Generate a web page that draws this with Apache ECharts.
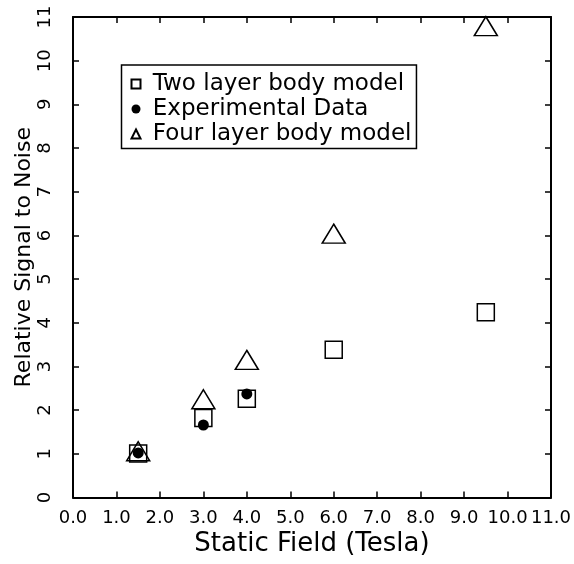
<!DOCTYPE html>
<html><head><meta charset="utf-8">
<script src="https://cdn.jsdelivr.net/npm/echarts@6/dist/echarts.min.js"></script>
<style>html,body{margin:0;padding:0;background:#fff}#c{width:574px;height:564px}</style>
</head><body><div id="c"></div>
<script>
// Data
const fieldTesla   = [1.5, 3.0, 4.0, 6.0, 9.5];
const twoLayer     = [1.01, 1.82, 2.26, 3.38, 4.24];
const fourLayer    = [1.06, 2.25, 3.15, 6.04, 10.79];
const expField     = [1.5, 3.0, 4.0];
const experimental = [1.02, 1.66, 2.37];
const seriesNames  = ['Two layer body model', 'Experimental Data', 'Four layer body model'];
const xTickLabels  = ['0.0','1.0','2.0','3.0','4.0','5.0','6.0','7.0','8.0','9.0','10.0','11.0'];
const yTickLabels  = ['0','1','2','3','4','5','6','7','8','9','10','11'];

const FONT = 'DejaVu Sans';
const pair = (xs, ys) => xs.map((x, i) => [x, ys[i]]);

const axisLine = {show: true, onZero: false, lineStyle: {color: '#000', width: 2}};
const axisTick = {show: true, inside: true, length: 6, lineStyle: {color: '#000', width: 1.5}};

const chart = echarts.init(document.getElementById('c'), null, {renderer: 'canvas'});
chart.setOption({
  backgroundColor: '#fff',
  animation: false,
  grid: {left: 73, right: 23, top: 17, bottom: 66.5, containLabel: false, outerBoundsMode: 'none'},
  xAxis: [
    {type: 'value', min: 0, max: 11, interval: 1, position: 'bottom',
     axisLine, axisTick, splitLine: {show: false},
     axisLabel: {color: '#000', fontSize: 18, fontFamily: FONT, margin: 12,
                 formatter: v => xTickLabels[Math.round(v)]},
     name: 'Static Field (Tesla)', nameLocation: 'middle', nameGap: 34, nameMoveOverlap: false,
     nameTextStyle: {color: '#000', fontSize: 26, fontFamily: FONT}},
    {type: 'value', min: 0, max: 11, interval: 1, position: 'top',
     axisLine, axisTick, splitLine: {show: false}, axisLabel: {show: false}}
  ],
  yAxis: [
    {type: 'value', min: 0, max: 11, interval: 1, position: 'left',
     axisLine, axisTick, splitLine: {show: false},
     axisLabel: {color: '#000', fontSize: 18, fontFamily: FONT, margin: 19, rotate: 90,
                 formatter: v => yTickLabels[Math.round(v)]},
     name: 'Relative Signal to Noise', nameLocation: 'middle', nameGap: 38, nameMoveOverlap: false,
     nameTextStyle: {color: '#000', fontSize: 22, fontFamily: FONT}},
    {type: 'value', min: 0, max: 11, interval: 1, position: 'right',
     axisLine, axisTick, splitLine: {show: false}, axisLabel: {show: false}}
  ],
  legend: {
    orient: 'vertical', left: 121.5, top: 65, padding: [7.5, 5, 3, 9],
    itemWidth: 9, itemHeight: 9, itemGap: 2,
    borderColor: '#000', borderWidth: 1.5, backgroundColor: '#fff',
    textStyle: {color: '#000', fontSize: 23, fontFamily: FONT, lineHeight: 20},
    formatter: name => ' ' + name,
    data: seriesNames
  },
  series: [
    {name: seriesNames[0], type: 'scatter', symbol: 'rect', symbolSize: 17,
     itemStyle: {color: 'rgba(255,255,255,0)', borderColor: '#000', borderWidth: 1.5, opacity: 1},
     data: pair(fieldTesla, twoLayer), z: 2},
    {name: seriesNames[2], type: 'scatter', symbol: 'triangle', symbolSize: [23, 19],
     itemStyle: {color: 'rgba(255,255,255,0)', borderColor: '#000', borderWidth: 1.5, opacity: 1},
     data: pair(fieldTesla, fourLayer), z: 3},
    {name: seriesNames[1], type: 'scatter', symbol: 'circle', symbolSize: 11,
     itemStyle: {color: '#000', opacity: 1},
     data: pair(expField, experimental), z: 4}
  ]
});
</script></body></html>
